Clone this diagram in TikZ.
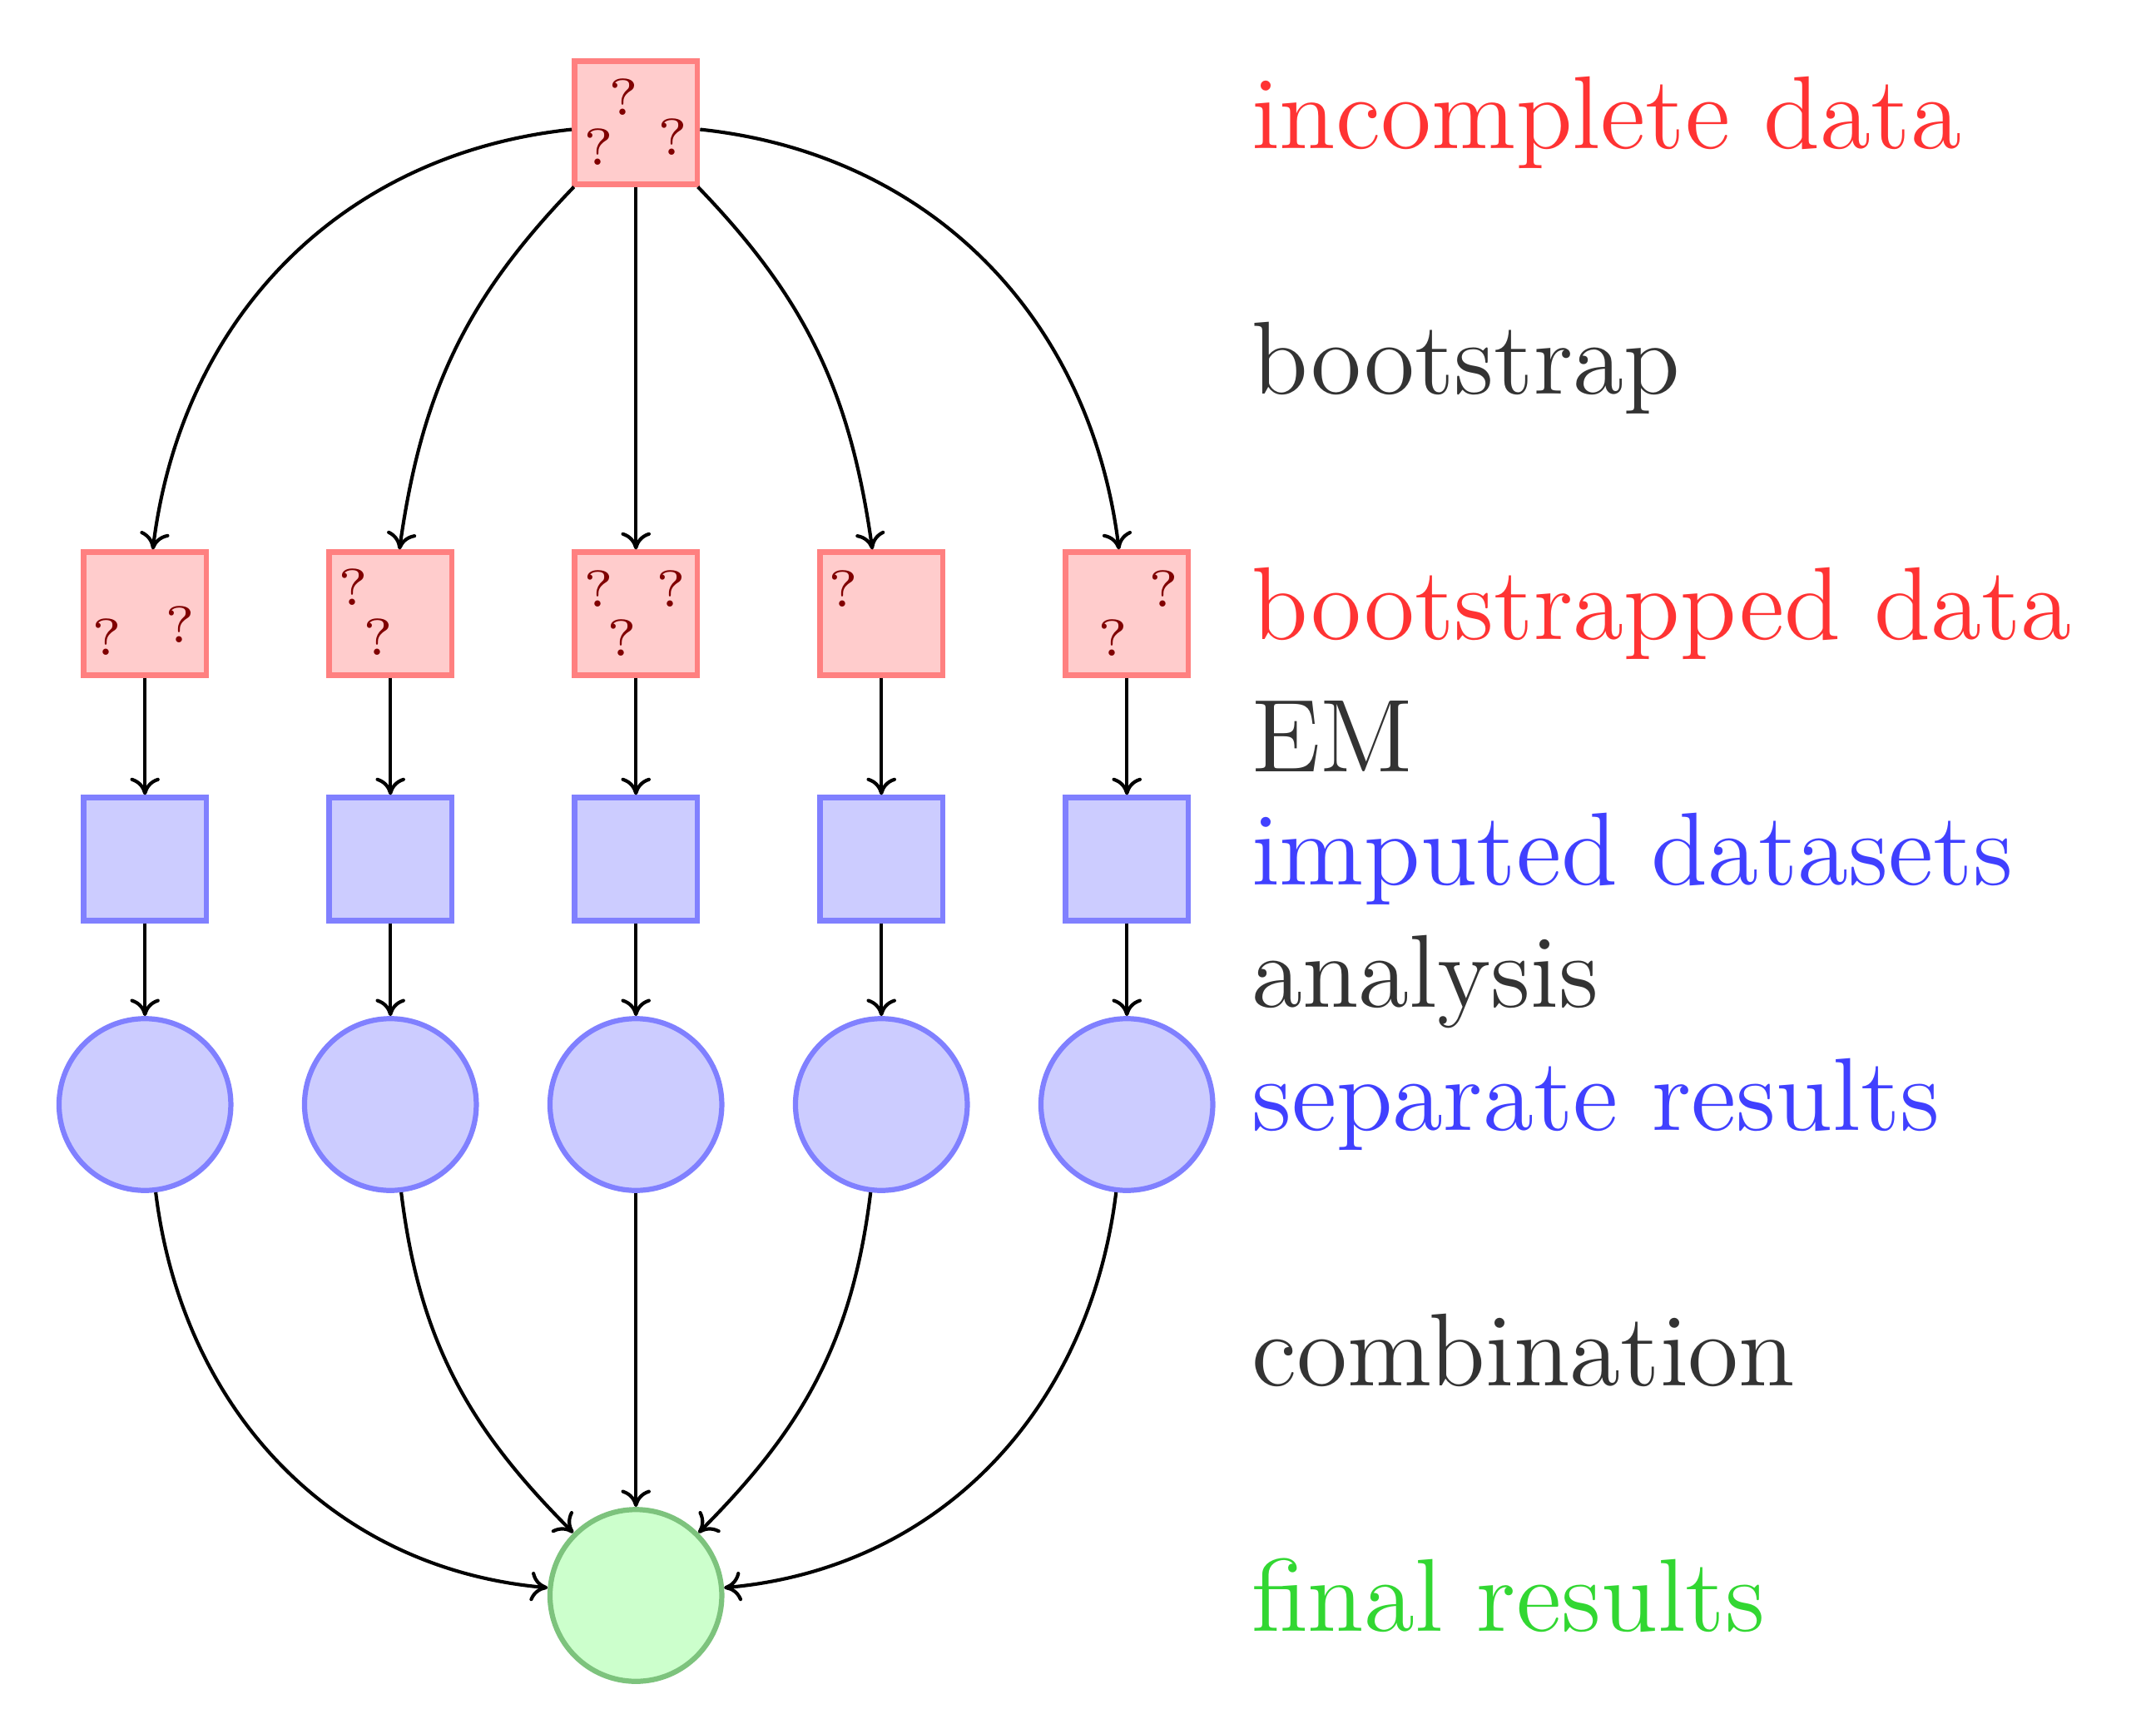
\documentclass[tikz,border=0pt]{standalone}
\usetikzlibrary{arrows.meta}
\definecolor{finalgreen}{RGB}{125,195,125}
\definecolor{labgreen}{RGB}{50,215,50}
\font\labfnt="[lmroman12-regular]:mapping=tex-text" at 24pt
\font\qmfnt="[lmroman6-regular]:mapping=tex-text" at 12pt
\tikzset{
  databox/.style={rectangle, draw=red!50, fill=red!20, line width=1.3pt, minimum size=1cm, inner sep=0pt},
  impbox/.style={rectangle, draw=blue!50, fill=blue!20, line width=1.3pt, minimum size=1cm, inner sep=0pt},
  resnode/.style={circle, draw=blue!50, fill=blue!20, line width=1.2pt, minimum size=1.4cm, inner sep=0pt},
  finnode/.style={circle, draw=finalgreen, fill=green!20, line width=1.2pt, minimum size=1.4cm, inner sep=0pt},
  qm/.style={text=red!50!black, font=\qmfnt, inner sep=0pt},
  lab/.style={anchor=west, inner sep=0pt, font=\labfnt},
  conn/.style={-{Computer Modern Rightarrow[length=1.4mm,width=2.4mm]}, line width=0.8pt}
}
\begin{document}
\begin{tikzpicture}
\useasboundingbox (0,0) rectangle (17.566,14.0);

% top box
\node[databox] (t) at (5.181,13) {};
\node[qm] (tq1) at ([shift={(-0.10,0.21)}]t.center) {?};
\node[qm] (tq2) at ([shift={(-0.30,-0.195)}]t.center) {?};
\node[qm] (tq3) at ([shift={(0.30,-0.115)}]t.center) {?};

% bootstrapped boxes
\node[databox] (b1) at (1.181,9) {};
\node[databox] (b2) at (3.181,9) {};
\node[databox] (b3) at (5.181,9) {};
\node[databox] (b4) at (7.181,9) {};
\node[databox] (b5) at (9.181,9) {};
\node[qm] (b1q1) at ([shift={(-0.31,-0.19)}]b1.center) {?};
\node[qm] (b1q2) at ([shift={(0.29,-0.09)}]b1.center) {?};
\node[qm] (b2q1) at ([shift={(-0.305,0.215)}]b2.center) {?};
\node[qm] (b2q2) at ([shift={(-0.10,-0.19)}]b2.center) {?};
\node[qm] (b3q1) at ([shift={(-0.30,0.20)}]b3.center) {?};
\node[qm] (b3q2) at ([shift={(0.29,0.20)}]b3.center) {?};
\node[qm] (b3q3) at ([shift={(-0.11,-0.20)}]b3.center) {?};
\node[qm] (b4q1) at ([shift={(-0.31,0.20)}]b4.center) {?};
\node[qm] (b5q1) at ([shift={(0.30,0.20)}]b5.center) {?};
\node[qm] (b5q2) at ([shift={(-0.11,-0.20)}]b5.center) {?};

% imputed boxes and results
\foreach \i/\x in {1/1.181,2/3.181,3/5.181,4/7.181,5/9.181}{
  \node[impbox] (m\i) at (\x,7) {};
  \node[resnode] (r\i) at (\x,5) {};
}
\node[finnode] (f) at (5.181,1) {};

% connectors
\draw[conn] (t) to[out=186,in=83] (b1);
\draw[conn] (t) to[out=226,in=82] (b2);
\draw[conn] (t) -- (b3);
\draw[conn] (t) to[out=-46,in=98] (b4);
\draw[conn] (t) to[out=-6,in=97] (b5);
\foreach \i in {1,...,5}{
  \draw[conn] (b\i) -- (m\i);
  \draw[conn] (m\i) -- (r\i);
}
\draw[conn] (r1) to[out=-83,in=175] (f);
\draw[conn] (r2) to[out=-83,in=135] (f);
\draw[conn] (r3) -- (f);
\draw[conn] (r4) to[out=-97,in=45] (f);
\draw[conn] (r5) to[out=-97,in=5] (f);

% labels
\node[lab, text=red!80] (l1) at (10.19,13) {incomplete data};
\node[lab, text=black!80] (l2) at (10.19,11) {bootstrap};
\node[lab, text=red!80] (l3) at (10.19,9) {bootstrapped data};
\node[lab, text=black!80] (l4) at (10.19,8) {EM};
\node[lab, text=blue!75] (l5) at (10.19,7) {imputed datasets};
\node[lab, text=black!80] (l6) at (10.19,6) {analysis};
\node[lab, text=blue!75] (l7) at (10.19,5) {separate results};
\node[lab, text=black!80] (l8) at (10.19,3) {combination};
\node[lab, text=labgreen] (l9) at (10.19,1) {final results};
\end{tikzpicture}
\end{document}
